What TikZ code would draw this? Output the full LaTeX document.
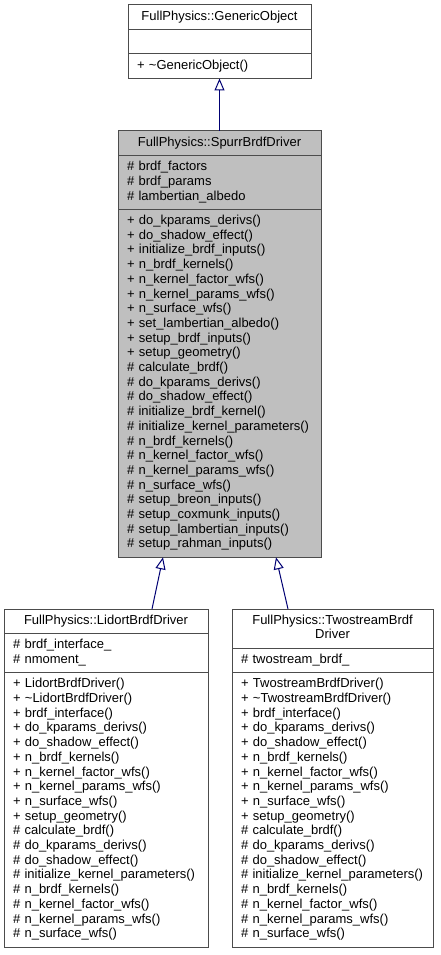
\documentclass[tikz,border=0pt]{standalone}
\usepackage{fontspec}
\setmainfont{Liberation Sans}
\usetikzlibrary{positioning,arrows.meta}

\begin{document}
\begin{tikzpicture}[x=1pt, y=-1pt,
  every node/.style={draw=black!70, line width=1pt, outer sep=0pt, inner xsep=9pt, inner ysep=4.9pt,
    font=\fontsize{13}{14.7}\selectfont, execute at begin node=\strut, execute at end node=\strut},
  classname/.style={align=center, text width=#1},
  members/.style={align=left, text width=#1},
  base/.style={fill=black!25},
  inherit/.style={draw=blue!45!black, line width=1pt, -{Triangle[open,length=12pt,width=10pt]}}]
\useasboundingbox (0,0) rectangle (440,955);
% generic object
\node [classname=165pt, anchor=north west] (generic) at (128,5) {FullPhysics::GenericObject};
\node [members=165pt, below=0pt of generic] (genericA) {};
\node [members=165pt, below=0pt of genericA] (genericM) {+ \textasciitilde GenericObject()};
% spurr brdf driver
\node [base, classname=185pt, anchor=north west] (spurr) at (118,131) {FullPhysics::SpurrBrdfDriver};
\node [base, members=185pt, below=0pt of spurr] (spurrA) {\# brdf\_factors\\\# brdf\_params\\\# lambertian\_albedo};
\node [base, members=185pt, below=0pt of spurrA] (spurrM) {+ do\_kparams\_derivs()\\+ do\_shadow\_effect()\\+ initialize\_brdf\_inputs()\\+ n\_brdf\_kernels()\\+ n\_kernel\_factor\_wfs()\\+ n\_kernel\_params\_wfs()\\+ n\_surface\_wfs()\\+ set\_lambertian\_albedo()\\+ setup\_brdf\_inputs()\\+ setup\_geometry()\\\# calculate\_brdf()\\\# do\_kparams\_derivs()\\\# do\_shadow\_effect()\\\# initialize\_brdf\_kernel()\\\# initialize\_kernel\_parameters()\\\# n\_brdf\_kernels()\\\# n\_kernel\_factor\_wfs()\\\# n\_kernel\_params\_wfs()\\\# n\_surface\_wfs()\\\# setup\_breon\_inputs()\\\# setup\_coxmunk\_inputs()\\\# setup\_lambertian\_inputs()\\\# setup\_rahman\_inputs()};
% lidort brdf driver
\node [classname=186pt, anchor=north west] (lidort) at (4,609) {FullPhysics::LidortBrdfDriver};
\node [members=186pt, below=0pt of lidort] (lidortA) {\# brdf\_interface\_\\\# nmoment\_};
\node [members=186pt, below=0pt of lidortA] (lidortM) {+ LidortBrdfDriver()\\+ \textasciitilde LidortBrdfDriver()\\+ brdf\_interface()\\+ do\_kparams\_derivs()\\+ do\_shadow\_effect()\\+ n\_brdf\_kernels()\\+ n\_kernel\_factor\_wfs()\\+ n\_kernel\_params\_wfs()\\+ n\_surface\_wfs()\\+ setup\_geometry()\\\# calculate\_brdf()\\\# do\_kparams\_derivs()\\\# do\_shadow\_effect()\\\# initialize\_kernel\_parameters()\\\# n\_brdf\_kernels()\\\# n\_kernel\_factor\_wfs()\\\# n\_kernel\_params\_wfs()\\\# n\_surface\_wfs()};
% twostream brdf driver
\node [classname=183pt, anchor=north west] (twostream) at (232,609) {FullPhysics::TwostreamBrdf\\Driver};
\node [members=183pt, below=0pt of twostream] (twostreamA) {\# twostream\_brdf\_};
\node [members=183pt, below=0pt of twostreamA] (twostreamM) {+ TwostreamBrdfDriver()\\+ \textasciitilde TwostreamBrdfDriver()\\+ brdf\_interface()\\+ do\_kparams\_derivs()\\+ do\_shadow\_effect()\\+ n\_brdf\_kernels()\\+ n\_kernel\_factor\_wfs()\\+ n\_kernel\_params\_wfs()\\+ n\_surface\_wfs()\\+ setup\_geometry()\\\# calculate\_brdf()\\\# do\_kparams\_derivs()\\\# do\_shadow\_effect()\\\# initialize\_kernel\_parameters()\\\# n\_brdf\_kernels()\\\# n\_kernel\_factor\_wfs()\\\# n\_kernel\_params\_wfs()\\\# n\_surface\_wfs()};
% inheritance
\draw [inherit] (spurr.north) -- (genericM.south);
\draw [inherit] ([xshift=148pt]lidort.north west) -- ([xshift=45pt]spurrM.south west);
\draw [inherit] ([xshift=56pt]twostream.north west) -- ([xshift=158pt]spurrM.south west);
\end{tikzpicture}
\end{document}
